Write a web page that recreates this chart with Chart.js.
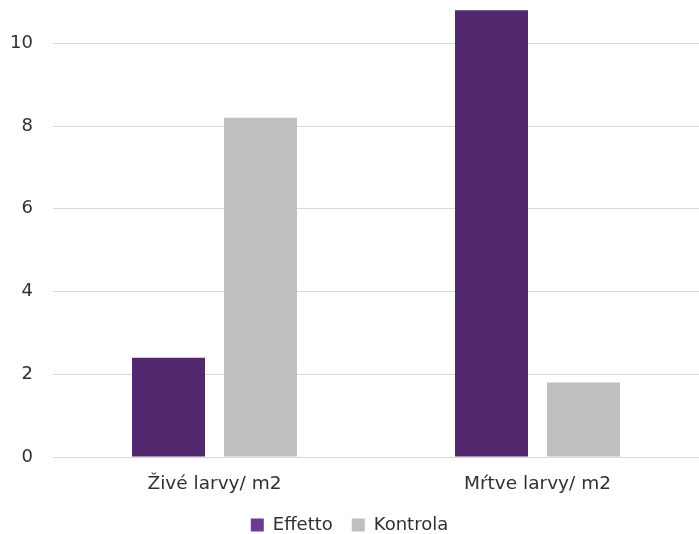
<!DOCTYPE html>
<html>
<head>
<meta charset="utf-8">
<script src="https://cdn.jsdelivr.net/npm/chart.js@4"></script>
<style>
html,body{margin:0;padding:0;background:#fff;overflow:hidden;}
#wrap{position:relative;width:699px;height:534px;overflow:hidden;}
#c{position:absolute;left:0;top:0;}
</style>
</head>
<body>
<div id="wrap"><canvas id="c" width="699" height="544"></canvas></div>
<script>
const categories = ["Živé larvy/ m2", "Mŕtve larvy/ m2"];
const effetto = [2.4, 10.8];
const kontrola = [8.2, 1.8];
const seriesNames = ["Effetto", "Kontrola"];
const yTicks = [0, 2, 4, 6, 8, 10];

const FONT = "'DejaVu Sans', sans-serif";
const TEXT = '#303030';
const barColors = ["#52286e", "#bfbfbf"];
const legendColors = ["#6b3b93", "#bfbfbf"];

new Chart(document.getElementById('c'), {
  type: 'bar',
  data: {
    labels: categories,
    datasets: [
      { label: seriesNames[0], data: effetto, backgroundColor: barColors[0], categoryPercentage: 0.5697, barPercentage: 0.7935 },
      { label: seriesNames[1], data: kontrola, backgroundColor: barColors[1], categoryPercentage: 0.5697, barPercentage: 0.7935 }
    ]
  },
  options: {
    responsive: false,
    animation: false,
    devicePixelRatio: 1,
    layout: { padding: 0 },
    plugins: {
      tooltip: { enabled: false },
      legend: {
        position: 'bottom',
        labels: {
          font: { family: FONT, size: 18 },
          color: TEXT,
          boxWidth: 13,
          boxHeight: 13,
          padding: 19,
          generateLabels: (chart) => chart.data.datasets.map((d, i) => ({
            text: d.label, fillStyle: legendColors[i], strokeStyle: legendColors[i], lineWidth: 0, datasetIndex: i, fontColor: TEXT
          }))
        }
      }
    },
    scales: {
      x: {
        grid: { display: false, drawTicks: false },
        border: { color: '#d9d9d9', width: 1 },
        ticks: { font: { family: FONT, size: 18.5 }, color: TEXT, padding: 16 },
        afterFit: (s) => { s.paddingLeft = 0; s.paddingRight = 0; s.height = 40; }
      },
      y: {
        min: 0,
        max: 11,
        afterBuildTicks: (axis) => { axis.ticks = yTicks.map(v => ({ value: v })); },
        grid: { color: '#d9d9d9', drawTicks: false },
        border: { display: false },
        ticks: { font: { family: FONT, size: 18 }, color: TEXT, padding: 20 },
        afterFit: (s) => { s.width = 53; s.paddingTop = 2; s.paddingBottom = 0; }
      }
    }
  }
});
</script>
</body>
</html>
